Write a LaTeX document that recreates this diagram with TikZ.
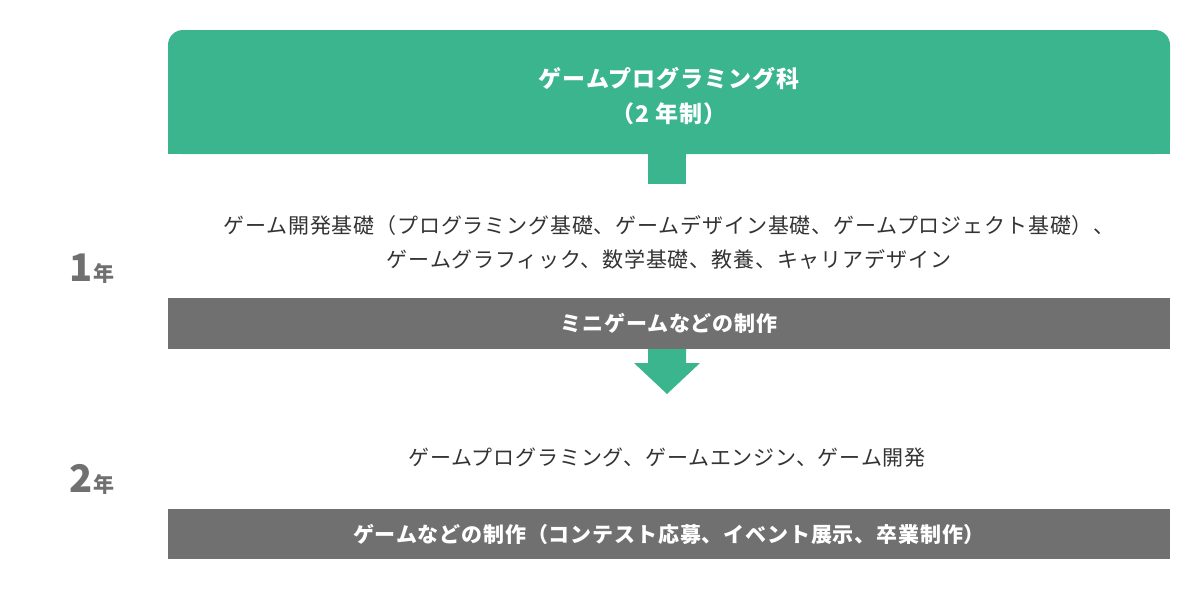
\documentclass[tikz,border=0pt]{standalone}
\usepackage{fontspec}
\setmainfont{Noto Sans CJK JP}
\usepackage{tikz}
\usetikzlibrary{
        calc,
        positioning
    }
\definecolor{coursegreen}{HTML}{3BB58E}
\definecolor{bargray}{HTML}{707070}
\definecolor{textgray}{HTML}{333333}
\tikzset{x=1pt,y=-1pt}
\tikzset{
    bar/.style={fill=bargray,text=white,font=\bfseries\fontsize{21}{21}\selectfont\addfontfeature{LetterSpace=4},
        minimum width=1002pt,minimum height=51pt,inner sep=0pt},
    subjects/.style={text=textgray,font=\fontsize{21}{34}\selectfont\addfontfeature{LetterSpace=4},align=center},
    year/.style={text=bargray,font=\bfseries\fontsize{21}{21}\selectfont,anchor=base,inner sep=0pt}
}

\begin{document}
\begin{tikzpicture}
                    \useasboundingbox (0,0) rectangle (1200,589);
                        \fill[coursegreen,rounded corners=15pt] (168,30) rectangle (1170,154);
                        \fill[coursegreen] (168,92) rectangle (1170,154);
                        \node[text=white,font=\bfseries\fontsize{23}{35}\selectfont\addfontfeature{LetterSpace=4},align=center] (course) at (669,96)
                            {ゲームプログラミング科\\（2 年制）};
                        \coordinate (coursebottom) at (667,154);
                        \fill[coursegreen] ($(coursebottom)+(-19,0)$) rectangle ($(coursebottom)+(19,30)$);

                        \node[year] (first) at (92,281) {{\fontsize{38}{38}\selectfont 1}年};
                        \node[subjects] (firstsubj) at (669,242)
                            {ゲーム開発基礎（プログラミング基礎、ゲームデザイン基礎、ゲームプロジェクト基礎）、\\ゲームグラフィック、数学基礎、教養、キャリアデザイン};
                        \node[bar] (mini) at (669,323.5) {ミニゲームなどの制作};

                        \coordinate (minibottom) at (667,349);
                        \fill[coursegreen] ($(minibottom)+(-19,0)$) -- ++(0,14) -- ++(-14,0)
                            -- ($(minibottom)+(0,45)$) -- ++(33,-31) -- ++(-14,0) -- ++(0,-14) -- cycle;

                        \node[year] (second) at (92,492) {{\fontsize{38}{38}\selectfont 2}年};
                        \node[subjects] (secondsubj) at (667,458)
                            {ゲームプログラミング、ゲームエンジン、ゲーム開発};
                        \node[bar,minimum height=50pt] (final) at (669,534)
                            {ゲームなどの制作（コンテスト応募、イベント展示、卒業制作）};
            \end{tikzpicture}
\end{document}
